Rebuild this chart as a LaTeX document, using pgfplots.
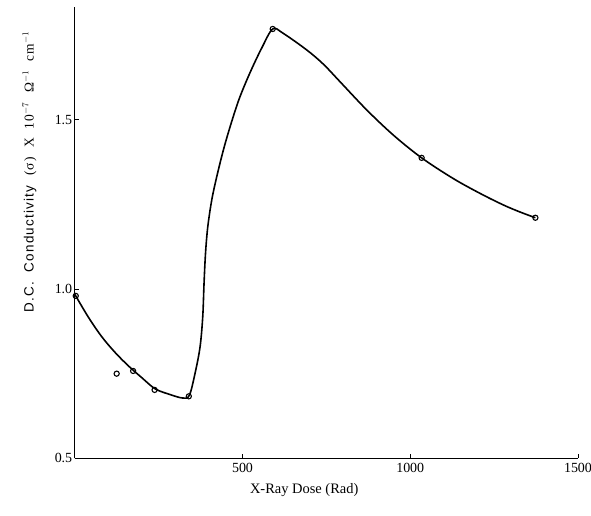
\documentclass[border=0pt]{standalone}
\usepackage{fontspec}
\setmainfont{Liberation Serif}
\setsansfont{Liberation Sans}
\usepackage{pgfplots}
\pgfplotsset{compat=1.18}
\usetikzlibrary{calc}

\begin{document}
\begin{tikzpicture}
\begin{axis}[
    name=ax,
    scale only axis,
    width=503bp, height=451bp,
    xmin=0, xmax=1500, ymin=0.5, ymax=1.834,
    axis lines=left,
    axis line style={line width=1.2pt, -},
    xtick={500,1000,1500},
    ytick={0.5,1.0,1.5},
    yticklabels={0.5,1.0,1.5},
    tick align=inside,
    major tick length=4bp,
    tick style={line width=1pt, black},
    tick label style={font=\fontsize{14}{15}\selectfont},
    /pgf/number format/assume math mode=true,
    /pgf/number format/set thousands separator={},
    xticklabel style={yshift=-1bp},
    yticklabel style={xshift=1bp},
    xlabel={X-Ray Dose (Rad)},
    ylabel={\sffamily\addfontfeature{LetterSpace=9}D.C.\ \ Conductivity\ \ \rmfamily\addfontfeature{LetterSpace=9}(σ)\ \ X\ \ 10$^{-7}$\ \ Ω$^{-1}$\ \ cm$^{-1}$},
    xlabel style={font=\fontsize{14.5}{16}\selectfont, at={(axis description cs:0.456,-0.071)}, anchor=center},
    ylabel style={font=\fontsize{13.5}{15}\selectfont, at={(axis description cs:-0.09,0.634)}, anchor=center},
    clip=false,
]
\coordinate (sw) at (rel axis cs:0,0);
\coordinate (ne) at (rel axis cs:1,1);

% hand-drawn fitted curve
\addplot[black, line width=1.6pt, smooth, tension=0.55] coordinates {
    (0,0.985) (40,0.918) (80,0.860) (120,0.813) (160,0.773) (200,0.738)
    (240,0.705) (285,0.688) (322,0.678) (341.6,0.686) (358.6,0.751)
    (373.5,0.829) (381.5,0.918) (385.4,1.017) (389.8,1.106) (396.5,1.184)
    (408.3,1.263) (423.2,1.332) (443,1.411) (464,1.483) (490,1.562)
    (522.5,1.640) (558,1.714) (590,1.769) (620,1.757) (691.5,1.707)
    (741,1.665) (790.8,1.613) (870,1.530) (950,1.455) (1034,1.388)
    (1128,1.327) (1208,1.283) (1277,1.249) (1327,1.228) (1373,1.211)
};

% measured points
\addplot[only marks, mark=o, mark size=2.6pt, black, line width=1.1pt] coordinates {
    (3,0.98) (125,0.75) (174,0.758) (238,0.702) (340,0.683)
    (590,1.769) (1034,1.388) (1373,1.211)
};
\end{axis}
\pgfresetboundingbox
\path ($(sw)+(-74.7bp,-57bp)$) rectangle ($(ne)+(13bp,7bp)$);
\end{tikzpicture}
\end{document}
